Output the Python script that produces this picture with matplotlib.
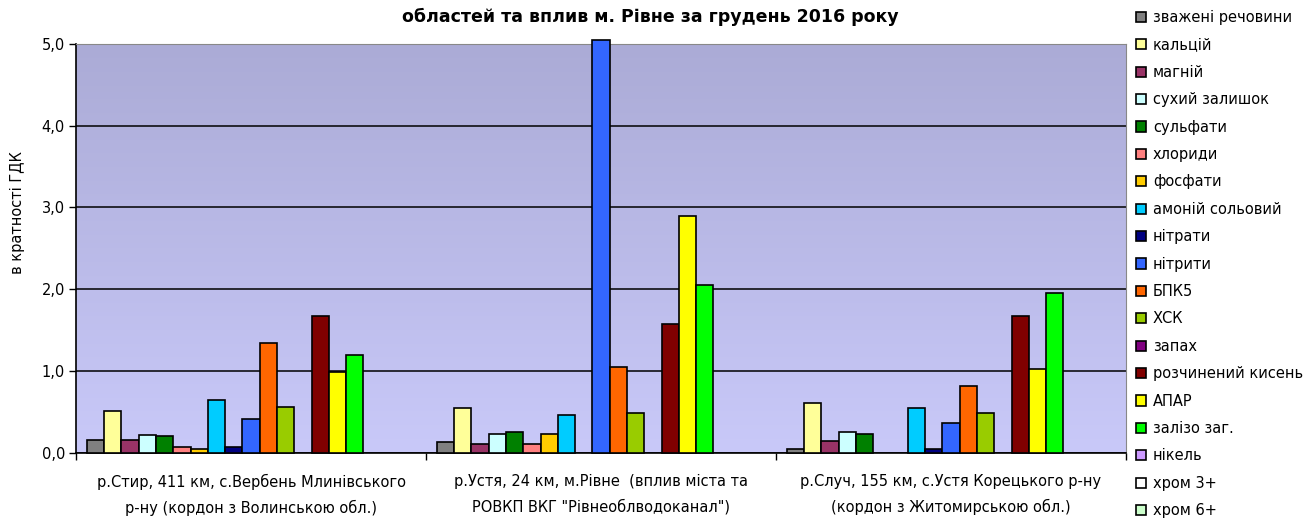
import numpy as np
import matplotlib
matplotlib.use('Agg')
import matplotlib.pyplot as plt

plt.rcParams['font.family'] = ['DejaVu Sans']

# showing river posts (groups on x axis)
sites = ['р.Стир, 411 км, с.Вербень Млинівського\nр-ну (кордон з Волинською обл.)',
         'р.Устя, 24 км, м.Рівне  (вплив міста та\nРОВКП ВКГ "Рівнеоблводоканал")',
         'р.Случ, 155 км, с.Устя Корецького р-ну\n(кордон з Житомирською обл.)']

params = ['зважені речовини', 'кальцій', 'магній', 'сухий залишок', 'сульфати',
          'хлориди', 'фосфати', 'амоній сольовий', 'нітрати', 'нітрити', 'БПК5',
          'ХСК', 'запах', 'розчинений кисень', 'АПАР', 'залізо заг.', 'нікель',
          'хром 3+', 'хром 6+']

colors = ['#808080', '#FFFF99', '#993366', '#CCFFFF', '#008000', '#FF8080',
          '#FFCC00', '#00CCFF', '#000080', '#3366FF', '#FF6600', '#99CC00',
          '#800080', '#800000', '#FFFF00', '#00FF00', '#CC99FF', '#FFFFFF',
          '#CCFFCC']

nan = np.nan
styr = [0.15, 0.51, 0.15, 0.22, 0.20, 0.07, 0.05, 0.64, 0.07, 0.41, 1.34,
        0.56, nan, 1.67, 0.99, 1.19, nan, nan, nan]
ustia = [0.13, 0.55, 0.11, 0.23, 0.25, 0.11, 0.23, 0.46, nan, 5.05, 1.05,
         0.48, nan, 1.57, 2.89, 2.05, nan, nan, nan]
sluch = [0.04, 0.61, 0.14, 0.25, 0.23, nan, nan, 0.55, 0.04, 0.36, 0.82,
         0.48, nan, 1.67, 1.03, 1.96, nan, nan, nan]

vals = np.array([styr, ustia, sluch])

fig = plt.figure(figsize=(13.09, 5.19), dpi=100)
ax = fig.add_axes([0.0581, 0.1277, 0.8021, 0.7875])

# gradient background of plot area, darker at top
t = np.linspace(0, 1, 256)[:, None, None]
top_c = np.array([171, 171, 214]) / 255
bot_c = np.array([201, 201, 249]) / 255
img = top_c + (bot_c - top_c) * t
ax.imshow(img, extent=[-0.5, 2.5, 0.0, 5.0], origin='upper', aspect='auto', zorder=0)

n = len(params)
w = 1 / 20.25
gap = 1 - n * w
x = np.arange(len(sites))
for j in range(n):
    pos = x - 0.5 + gap / 2 + w * (j + 0.5)
    ax.bar(pos, vals[:, j], width=w, color=colors[j], edgecolor='black',
           linewidth=1.2, label=params[j], zorder=3, clip_on=False)

ax.set_xlim(-0.5, 2.5)
ax.set_ylim(0, 5)
ax.set_yticks([0, 1, 2, 3, 4, 5])
ax.set_yticklabels(['0,0', '1,0', '2,0', '3,0', '4,0', '5,0'], fontsize=10.5)
ax.yaxis.grid(True, color='black', linewidth=1.1, zorder=1)
ax.set_axisbelow(True)

ax.set_xticks(x)
ax.set_xticklabels(sites, fontsize=10.5, linespacing=1.8)
ax.tick_params(axis='x', length=0, pad=15)
ax.set_xticks([-0.5, 0.5, 1.5, 2.5], minor=True)
ax.tick_params(axis='x', which='minor', length=5, width=1, color='black')
ax.tick_params(axis='y', length=5, width=1, pad=3)

for s in ['top', 'right']:
    ax.spines[s].set_color('#888888')
for s in ['left', 'bottom']:
    ax.spines[s].set_color('black')
    ax.spines[s].set_linewidth(1.2)

fig.text(17 / 1309, 1 - 213 / 519, 'в кратності ГДК', rotation=90,
         ha='center', va='center', fontsize=10.5)
fig.text(650 / 1309, 1 - 17 / 519, 'областей та вплив м. Рівне за грудень 2016 року',
         ha='center', va='center', fontsize=12.5, fontweight='bold')

leg = fig.legend(loc='upper left', bbox_to_anchor=(1136 / 1309, 1.0 - 10 / 519),
                 frameon=False, fontsize=10.5, handlelength=0.7, handleheight=0.7,
                 handletextpad=0.45, labelspacing=0.85, borderaxespad=0, borderpad=0)

fig.savefig('out.png', dpi=100)
